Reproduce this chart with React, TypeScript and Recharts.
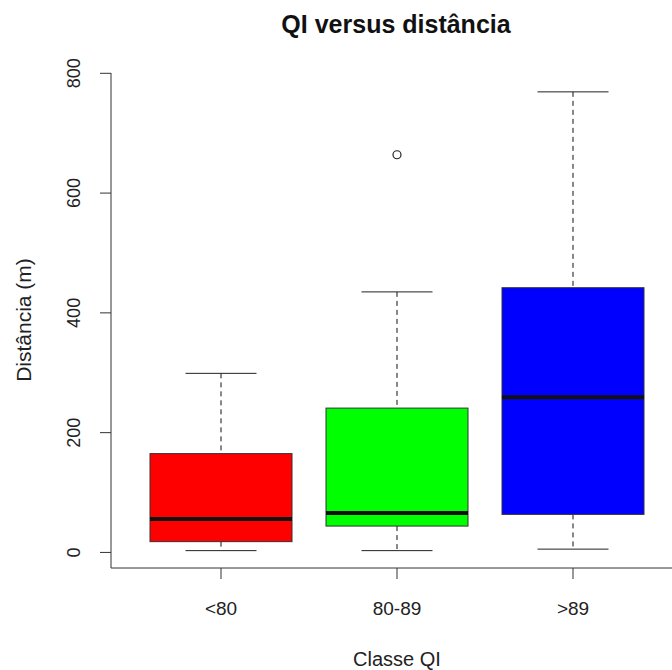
import { ComposedChart, Bar, Line, XAxis, YAxis, Cell } from "recharts";

const categories = ["<80", "80-89", ">89"];
const mins = [3, 3, 5.5];
const q1s = [18, 44, 63.5];
const medians = [56, 66, 259];
const q3s = [165, 241, 442];
const maxs = [299, 435, 769];
const outliers = [null, 664, null];
const boxColors = ["#ff0000", "#00ff00", "#0000ff"];
const yTicks = [0, 200, 400, 600, 800];

const data = categories.map((name, i) => ({
    name,
    min: mins[i],
    q1: q1s[i],
    median: medians[i],
    q3: q3s[i],
    max: maxs[i],
    outlier: outliers[i],
}));

const FONT = "'Liberation Sans', Arial, sans-serif";
const INK = "#222";

// one range bar (min..max) per group, the box parts are placed on the same linear scale
const BoxShape = (props: any) => {
    const { x, y, width, height, payload, fill } = props;
    const { min, q1, median, q3, max } = payload;
    const py = (v: number) => y + (height * (max - v)) / (max - min);
    const cx = x + width / 2;
    const cap = width / 4;
    return (
        <g>
            <line x1={cx} x2={cx} y1={py(max)} y2={py(q3)} stroke="#111" strokeDasharray="5 4" />
            <line x1={cx} x2={cx} y1={py(q1)} y2={py(min)} stroke="#111" strokeDasharray="5 4" />
            <line x1={cx - cap} x2={cx + cap} y1={py(max)} y2={py(max)} stroke="#222" />
            <line x1={cx - cap} x2={cx + cap} y1={py(min)} y2={py(min)} stroke="#222" />
            <rect x={x} y={py(q3)} width={width} height={py(q1) - py(q3)} fill={fill} stroke="#333" />
            <line x1={x} x2={x + width} y1={py(median)} y2={py(median)} stroke="#111" strokeWidth={4} />
        </g>
    );
};

const YTick = ({ x, y, payload }: any) => (
    <text
        x={x}
        y={y}
        transform={`rotate(-90 ${x} ${y})`}
        textAnchor="middle"
        fontSize={18}
        fontFamily={FONT}
        fill={INK}
    >
        {payload.value}
    </text>
);

const XTick = ({ x, y, payload }: any) => (
    <text x={x} y={y} dy="0.71em" textAnchor="middle" fontSize={19} fontFamily={FONT} fill={INK}>
        {payload.value}
    </text>
);

const OutlierDot = ({ cx, cy, value }: any) => {
    if (value == null) return null;
    return <circle cx={cx} cy={cy} r={4} fill="#fff" stroke="#222" strokeWidth={1.2} />;
};

export default function App() {
    return (
        <div style={{ position: "absolute", left: 0, top: 0, width: 672, height: 670, overflow: "hidden", background: "#fff" }}>
            <ComposedChart width={700} height={670} data={data} margin={{ top: 73, right: 18, bottom: 0, left: 0 }}>
                <XAxis
                    dataKey="name"
                    height={102}
                    padding={{ left: 22, right: 21 }}
                    stroke="#333"
                    tickSize={11}
                    tickMargin={23}
                    tick={<XTick />}
                />
                <XAxis xAxisId="top" dataKey="name" orientation="top" height={0} tick={false} tickLine={false} stroke="#333" />
                <YAxis
                    width={111}
                    domain={[-26, 800.5]}
                    allowDataOverflow
                    ticks={yTicks}
                    stroke="#333"
                    tickSize={11}
                    tickMargin={20}
                    tick={<YTick />}
                />
                <Bar dataKey={(d: any) => [d.min, d.max]} barSize={142} shape={<BoxShape />} isAnimationActive={false}>
                    {data.map((entry, index) => (
                        <Cell key={`cell-${index}`} fill={boxColors[index]} />
                    ))}
                </Bar>
                <Line
                    dataKey="outlier"
                    stroke="none"
                    dot={<OutlierDot />}
                    activeDot={false}
                    isAnimationActive={false}
                />
            </ComposedChart>
            <svg width={672} height={670} style={{ position: "absolute", left: 0, top: 0, pointerEvents: "none" }}>
                <text x={396} y={33} textAnchor="middle" fontSize={25} fontWeight="bold" fontFamily={FONT} fill="#111">
                    QI versus distância
                </text>
                <text x={397} y={666} textAnchor="middle" fontSize={20} fontFamily={FONT} fill={INK}>
                    Classe QI
                </text>
                <text
                    x={31}
                    y={320}
                    transform="rotate(-90 31 320)"
                    textAnchor="middle"
                    fontSize={21}
                    fontFamily={FONT}
                    fill={INK}
                >
                    Distância (m)
                </text>
            </svg>
        </div>
    );
}
